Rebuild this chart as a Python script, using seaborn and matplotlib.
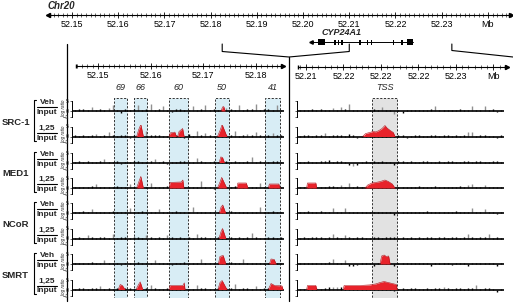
"""
ChIP-chip tracks at the CYP24A1 locus (chr20), coactivator / corepressor
log ratios for vehicle and 1,25(OH)2D3 against input.
"""

import numpy as np
import matplotlib
matplotlib.use('Agg')
import matplotlib.pyplot as plt
from matplotlib.ticker import FixedLocator, MultipleLocator
from matplotlib.transforms import blended_transform_factory
import seaborn as sns

# ---------------------------------------------------------------- data
chr_ticks = [52.15, 52.16, 52.17, 52.18, 52.19, 52.20, 52.21, 52.22, 52.23, 52.24]
chr_labels = ['52.15', '52.16', '52.17', '52.18', '52.19', '52.20', '52.21', '52.22', '52.23', 'Mb']
chr_range = [52.1448, 52.2450]

gene_span = [52.2017, 52.2238]
exon_start = [52.2032, 52.2068, 52.2075, 52.2083, 52.2122, 52.2138, 52.2146, 52.2194, 52.2213, 52.2225]
exon_end = [52.2048, 52.2071, 52.2078, 52.2086, 52.2125, 52.2141, 52.2149, 52.2197, 52.2216, 52.2238]

zoom_left = [52.1825, 52.2100]
zoom_right_start = 52.2322

left_range = [52.14583, 52.1851]
left_ticks = [52.15, 52.16, 52.17, 52.18]
left_labels = ['52.15', '52.16', '52.17', '52.18']
right_labels = ['52.21', '52.22', '52.22', '52.22', '52.23', 'Mb']

region_names = ['69', '66', '60', '50', '41']
region_start = [19.5, 29.0, 45.7, 67.6, 91.4]
region_end = [25.7, 35.2, 54.8, 74.3, 98.6]
tss_start, tss_end = 36.1, 48.3

factors = ['SRC-1', 'MED1', 'NCoR', 'SMRT']
treatments = ['Veh', '1,25']

# probe bins (panel position 0-100)
bin_pos = np.arange(1, 100, 2)

# left panel (upstream enhancer region), log ratio per bin
src_veh_L = [0.5, 0.8, 1.2, 0.4, 2.0, 0.6, 1.0, 0.3, 1.5, 2.8, 0.5, -0.8, 1.0, 0.6, 0.9, 3.0, 0.7, 1.2, 3.5, 0.4,
             1.0, 2.5, 0.6, -0.6, 0.8, 1.1, 0.5, 0.7, 2.5, 0.6, 0.9, 3.0, 0.5, 1.0, 0.7, 0.4, 1.5, 0.8, 0.6, 3.0,
             0.5, 0.9, 1.2, 3.5, 0.6, 0.8, 1.0, 0.5, 3.0, 0.7]
src_125_L = [0.6, 0.4, 1.0, 0.5, 0.8, 1.5, 0.4, 0.6, 2.5, 0.7, 0.5, 1.0, 0.6, -0.5, 0.8, 0.5, 0.7, 2.8, 0.6, 0.9,
             1.0, 0.5, 0.4, 0.8, 0.6, 0.7, -0.6, 1.2, 0.5, 3.0, 0.6, 2.0, 0.8, 0.5, 0.4, 0.6, 0.9, 0.7, 3.0, 0.5,
             0.8, 1.5, 0.6, 2.5, 0.7, 0.5, 1.0, 2.0, 0.6, 0.8]
med_veh_L = [0.4, 0.6, 0.3, 0.8, 0.5, 0.4, 0.7, 2.0, 0.5, 0.3, 0.6, -0.7, 0.4, 0.5, 0.8, 0.6, 0.4, 0.5, 0.7, 2.0,
             0.3, 0.6, -0.8, 0.5, 0.4, 0.7, 0.6, 0.5, 0.4, 2.5, 0.6, 0.3, 0.5, 0.8, 0.4, 0.3, 0.6, 0.5, 0.7, 0.4,
             0.5, 0.6, 3.0, 0.4, 0.7, 0.5, 0.3, 0.6, 0.8, 0.4]
med_125_L = [0.5, 0.7, 0.4, 0.6, 0.8, 2.0, 0.5, 0.6, 0.4, 0.7, 0.8, 0.5, 0.6, 2.0, 0.4, 0.6, 0.5, 0.7, 2.5, 0.4,
             0.6, 0.5, 0.8, 0.7, 0.6, 0.4, 0.5, 0.6, 0.7, 0.5, 3.5, 0.6, 0.4, -0.5, 0.5, 0.7, 0.6, 0.4, 0.8, 0.5,
             0.6, 0.7, 0.4, 0.5, 2.5, 0.6, 0.5, 0.4, 0.6, 0.7]
ncor_veh_L = [0.6, 0.4, 0.8, 0.5, 2.0, 0.6, 0.7, 0.5, 0.4, 0.8, 0.6, 0.5, 0.7, 2.5, 0.4, 0.6, 0.8, 0.5, 0.6, 0.7,
              2.0, 0.5, 0.4, 0.6, 0.8, 0.5, 0.6, 0.7, 3.0, 0.4, 0.6, 0.5, 0.7, 0.6, 0.5, 0.4, 0.6, 0.8, 0.5, 0.7,
              0.6, 0.4, 0.5, 0.7, 3.0, 0.6, 0.5, 0.8, 0.4, 0.6]
ncor_125_L = [0.5, 0.6, 0.4, 2.0, 0.7, 0.5, 0.6, 0.8, 0.5, 2.5, 0.4, 0.6, 0.7, 0.5, 0.6, 0.8, 0.5, 2.0, 0.6, 0.4,
              0.7, 0.5, 2.0, 0.6, 0.5, 0.7, 0.4, 0.6, 0.5, 2.5, 0.6, 0.8, 0.5, 0.4, 0.6, 0.7, 0.5, 0.6, 0.4, 0.8,
              0.5, 0.6, 3.0, 0.7, 0.5, 0.4, 0.6, 0.8, 0.5, 0.6]
smrt_veh_L = [0.4, 0.7, 0.5, 0.6, 0.8, 0.5, 0.4, 2.0, 0.6, 0.5, 0.7, -0.6, 0.5, 0.6, 0.4, 0.8, 0.5, 0.6, 0.7, 2.0,
              0.5, 0.6, 0.4, -0.7, 0.5, 0.6, 0.8, 0.5, 0.4, 0.6, 2.5, 0.5, 0.7, 0.6, 0.4, 0.5, 0.6, 0.8, 0.5, 0.7,
              2.5, 0.6, 0.5, 0.4, 0.7, 0.6, 0.5, 0.8, 0.4, 0.6]
smrt_125_L = [0.5, 0.6, 0.7, 0.4, 0.6, 0.8, 2.0, 0.5, 0.6, 0.4, 0.7, 0.5, 0.6, 0.8, 0.4, 0.6, 0.5, 0.7, 2.5, 0.6,
              0.5, 0.4, 0.7, 0.6, 0.5, 0.8, 0.6, 0.4, 0.5, 2.5, 0.6, 0.7, 0.5, 0.4, 0.6, 0.5, 0.8, 0.6, 3.0, 0.5,
              0.7, 0.6, 0.4, 2.0, 0.5, 0.6, 0.7, 0.5, 0.6, 0.4]

# right panel (promoter / TSS region)
src_veh_R = [0.5, 0.4, 0.6, 0.8, 0.5, 1.0, 0.6, 0.5, 1.5, 0.7, 2.0, 0.8, 3.5, 0.6, 0.5, 0.7, 0.4, 0.6, 0.8, 0.5,
             2.0, 0.6, 0.7, -1.5, 0.5, -0.8, 0.6, 0.4, 0.5, 0.7, 0.6, 0.5, 0.8, 2.5, 0.6, 0.5, 0.7, 0.6, 0.4, 0.8,
             0.5, 0.6, 2.5, 0.7, 0.6, 2.5, 0.5, 0.8, -0.6, 0.5]
src_125_R = [0.4, 0.6, 0.8, 0.5, 0.7, 0.6, 2.0, 0.5, 0.8, 0.6, 0.7, 0.5, 1.2, 0.6, -0.5, 0.4, 0.6, 0.5, 0.7, 0.4,
             0.5, 0.6, 0.4, 0.5, 0.6, 0.8, -0.6, 0.5, 0.7, 0.6, 0.4, 0.5, 0.6, 0.7, 0.5, 0.8, 0.6, 0.4, 0.7, 0.5,
             0.6, 2.5, 2.5, 0.5, 0.7, 0.6, 0.4, 0.5, -0.8, 0.6]
med_veh_R = [0.4, 0.5, 0.6, 0.4, 0.5, 0.7, 0.6, 1.2, 0.5, 0.6, 0.7, 0.5, -1.2, -1.5, -1.0, 0.5, 0.6, 0.4, 0.7, 0.5,
             0.6, 0.4, 0.5, -1.0, 0.6, 0.7, 0.5, 0.6, 0.4, 0.5, 0.6, 0.7, 0.5, 0.4, 0.6, 0.5, 0.7, 0.6, 0.4, 0.5,
             0.6, 0.8, 0.5, 0.7, 0.6, 0.4, 0.5, 0.7, 0.6, 0.5]
med_125_R = [0.4, 0.6, 0.5, 0.7, 0.6, 0.5, 0.4, 1.0, 0.8, 0.6, 1.5, 0.7, 2.5, 0.6, 0.8, 0.5, 0.4, 0.6, 0.5, 0.7,
             0.6, 0.5, 0.8, 0.6, 0.5, 0.7, 0.4, 0.6, 0.5, 0.8, 0.6, 0.7, 0.5, 1.2, 0.6, 0.5, 0.7, 0.6, 0.5, 0.8,
             0.6, 1.5, 2.0, 0.7, 0.6, 1.5, 0.5, 0.6, 0.7, 0.5]
ncor_veh_R = [0.5, 0.6, 0.8, 0.5, 0.7, 1.2, 0.6, 0.5, 2.5, 0.6, 0.7, 2.5, 0.5, 0.6, 0.4, 0.5, 0.7, 0.6, 0.5, 0.4,
              0.6, 0.5, 0.7, -1.0, 0.5, 0.6, 0.4, 0.5, 0.7, 0.6, 0.5, 0.8, 0.6, 0.5, 0.7, 0.6, 0.5, 0.4, 0.8, 0.6,
              0.5, 0.7, 2.5, 0.6, 0.5, 2.0, 0.7, 0.6, -0.6, 0.5]
ncor_125_R = [0.4, 0.6, 0.5, 0.7, 0.8, 0.6, 0.5, 0.7, 2.5, 0.6, 0.5, 2.0, 0.6, 0.5, 0.7, 0.6, 0.4, 0.5, 0.7, 0.6,
              0.5, 0.6, 0.8, 0.7, 0.5, 0.6, 0.5, 0.7, 0.4, 0.6, 0.5, 0.6, 0.7, 0.5, 0.8, 0.6, 0.5, 0.7, 0.6, 0.5,
              0.7, 2.5, 0.6, 0.5, 0.7, 0.6, 2.5, 0.5, 0.6, 0.4]
smrt_veh_R = [0.5, 0.4, 0.6, 0.5, 0.7, 0.6, 0.5, 0.8, 2.5, 0.6, 0.5, 2.0, -0.8, -1.0, -0.6, 0.5, 0.6, 0.4, -0.8, 0.5,
              0.6, 0.5, 0.7, -1.0, 0.6, 0.5, 0.7, 0.4, 0.6, 0.5, 0.7, 0.6, -0.8, 0.5, 0.6, 0.7, 0.5, -0.6, 0.6, 0.7,
              0.5, -0.8, 0.6, 0.5, 0.7, 0.4, 0.6, 0.5, -1.0, 0.6]
smrt_125_R = [0.5, 0.4, 0.6, 0.5, 0.7, 0.5, 0.6, 1.2, 1.5, 1.5, 1.2, 0.6, 0.5, 0.7, 0.6, 0.5, 0.8, 0.6, 0.5, 0.7,
              0.6, 0.5, 0.4, -0.8, 0.5, 0.6, 0.5, 0.7, 0.6, 0.5, 0.4, 0.6, 0.5, 0.7, 1.0, 1.5, 0.6, 0.5, 0.7, 0.6,
              0.5, 0.8, 0.6, 2.5, 0.5, 0.7, 0.6, 0.5, -1.2, 0.5]

# significant (red) enrichment peaks: (positions, log ratios)
src_veh_L_peaks = [([70.5, 71.2, 71.8, 72.4], [0, 2.0, 2.2, 0])]
src_125_L_peaks = [([30.3, 31.3, 32.3, 33.5], [0, 3.5, 6.0, 0]),
                   ([45.7, 46.3, 48.5, 49.2], [0, 1.8, 2.2, 0]),
                   ([49.8, 50.5, 52.2, 52.9], [0, 2.5, 4.0, 0]),
                   ([68.8, 70.2, 71.0, 73.3], [0, 3.5, 6.0, 0])]
med_veh_L_peaks = [([69.6, 70.4, 71.2, 72.1], [0, 2.8, 2.5, 0])]
med_125_L_peaks = [([30.3, 31.3, 32.3, 33.5], [0, 3.0, 5.8, 0]),
                   ([45.8, 46.2, 51.5, 52.3, 52.8], [0, 2.8, 3.0, 4.0, 0]),
                   ([68.8, 70.0, 70.8, 73.2], [0, 3.0, 5.3, 0]),
                   ([78.0, 78.5, 82.5, 83.3], [0, 2.5, 2.5, 0]),
                   ([93.0, 93.5, 98.0, 98.6], [0, 2.0, 2.0, 0])]
ncor_veh_L_peaks = [([69.6, 70.5, 71.3, 72.7], [0, 3.0, 4.0, 0])]
ncor_125_L_peaks = [([69.5, 70.5, 71.2, 72.8], [0, 3.5, 5.0, 0])]
smrt_veh_L_peaks = [([69.2, 70.0, 71.5, 72.8], [0, 3.8, 4.3, 0]),
                    ([93.5, 94.3, 95.8, 96.7], [0, 2.5, 2.3, 0])]
smrt_125_L_peaks = [([21.5, 22.5, 23.5, 24.8], [0, 2.5, 2.0, 0]),
                    ([30.0, 31.2, 32.0, 33.2], [0, 2.5, 3.8, 0]),
                    ([45.7, 46.2, 52.3, 53.0, 53.3], [0, 2.0, 2.0, 3.3, 0]),
                    ([69.0, 70.0, 71.0, 73.3], [0, 3.5, 4.5, 0]),
                    ([93.0, 94.3, 96.0, 99.5, 100.0], [0, 3.0, 2.0, 1.8, 0])]

src_veh_R_peaks = []
src_125_R_peaks = [([31.5, 33.0, 35.0, 36.5, 38.0, 39.5, 41.0, 42.4, 43.5, 45.0, 46.5, 47.3],
                    [0, 1.5, 2.0, 2.5, 2.3, 3.0, 4.0, 5.5, 4.2, 3.0, 2.0, 0])]
med_veh_R_peaks = []
med_125_R_peaks = [([4.2, 4.6, 8.7, 9.1], [0, 2.5, 2.5, 0]),
                   ([32.7, 34.0, 36.0, 38.0, 40.0, 42.4, 44.0, 46.0, 47.3],
                    [0, 1.5, 2.5, 2.8, 3.2, 4.0, 3.3, 2.0, 0])]
ncor_veh_R_peaks = []
ncor_125_R_peaks = []
smrt_veh_R_peaks = [([40.0, 40.8, 42.0, 43.0, 44.2, 44.9], [0, 4.0, 4.5, 3.8, 4.0, 0])]
smrt_125_R_peaks = [([4.2, 4.6, 8.7, 9.1], [0, 2.0, 2.0, 0]),
                    ([22.0, 22.5, 30.0, 35.0, 38.0, 40.0, 42.0, 44.0, 46.0, 48.0, 48.3],
                     [0, 2.0, 2.0, 2.3, 2.8, 3.5, 4.0, 3.5, 3.0, 2.5, 0])]

left_tracks = [src_veh_L, src_125_L, med_veh_L, med_125_L, ncor_veh_L, ncor_125_L, smrt_veh_L, smrt_125_L]
right_tracks = [src_veh_R, src_125_R, med_veh_R, med_125_R, ncor_veh_R, ncor_125_R, smrt_veh_R, smrt_125_R]
left_peaks = [src_veh_L_peaks, src_125_L_peaks, med_veh_L_peaks, med_125_L_peaks,
              ncor_veh_L_peaks, ncor_125_L_peaks, smrt_veh_L_peaks, smrt_125_L_peaks]
right_peaks = [src_veh_R_peaks, src_125_R_peaks, med_veh_R_peaks, med_125_R_peaks,
               ncor_veh_R_peaks, ncor_125_R_peaks, smrt_veh_R_peaks, smrt_125_R_peaks]

# ---------------------------------------------------------------- style
sns.set_theme(style='white')
plt.rcParams['font.family'] = ['Liberation Sans', 'DejaVu Sans']

RED = '#e8232b'
BLUE_BOX = '#d8edf5'
GRAY_BOX = '#e2e2e2'

W, H = 513, 303
fig = plt.figure(figsize=(W / 100, H / 100), dpi=100)


def px_axes(x0, y0, w, h):
    """Add an axes given in pixel coordinates (top-left origin)."""
    return fig.add_axes([x0 / W, 1 - (y0 + h) / H, w / W, h / H])


def scale_bar(ax, lo, hi, ticks, labels, minor, left_arrow=True):
    ax.set_xlim(lo, hi)
    ax.set_ylim(0, 1)
    ax.set_facecolor('none')
    for s in ['top', 'left', 'right']:
        ax.spines[s].set_visible(False)
    ax.spines['bottom'].set_linewidth(0.8)
    ax.spines['bottom'].set_color('black')
    ax.set_yticks([])
    ax.xaxis.set_major_locator(FixedLocator(ticks))
    ax.set_xticklabels(labels)
    ax.xaxis.set_minor_locator(MultipleLocator(minor))
    ax.tick_params(axis='x', which='major', direction='inout', length=5, width=0.6,
                   labelsize=6.5, pad=1, bottom=True, colors='black')
    ax.tick_params(axis='x', which='minor', direction='inout', length=3, width=0.5, bottom=True)
    ax.plot([1], [0], marker='>', ms=3, color='black', transform=ax.transAxes, clip_on=False)
    if left_arrow:
        ax.plot([0], [0], marker='<', ms=3, color='black', transform=ax.transAxes, clip_on=False)


# overlay for connector lines and labels (pixel coordinates)
ov = fig.add_axes([0, 0, 1, 1])
ov.set_xlim(0, W)
ov.set_ylim(H, 0)
ov.axis('off')

# chromosome ruler
CHR_X0, CHR_W = 48, 463
chr_ax = px_axes(CHR_X0, 14.5, CHR_W, 0.5)
scale_bar(chr_ax, chr_range[0], chr_range[1], chr_ticks, chr_labels, 0.001)
ov.text(CHR_X0, 6, 'Chr20', fontsize=7, fontweight='bold', fontstyle='italic', va='center', ha='left')


def mb2px(mb):
    return CHR_X0 + (mb - chr_range[0]) / (chr_range[1] - chr_range[0]) * CHR_W


# gene model
gene_ax = px_axes(CHR_X0, 37, CHR_W, 10)
gene_ax.set_xlim(chr_range)
gene_ax.set_ylim(-1, 1)
gene_ax.axis('off')
gene_ax.plot(gene_span, [0, 0], color='black', lw=0.7)
gene_ax.plot([gene_span[0]], [0], marker='<', ms=2.5, color='black')
ex_s = np.array(exon_start)
ex_e = np.array(exon_end)
ex_w = ex_e - ex_s
ex_h = np.where(ex_w > 0.0008, 1.3, 1.0)
gene_ax.bar((ex_s + ex_e) / 2, ex_h, width=ex_w, bottom=-ex_h / 2, color='black', linewidth=0)
gene_ax.text(np.mean(gene_span) - 0.0045, 1.9, 'CYP24A1', fontsize=6.5, fontweight='bold',
             fontstyle='italic', ha='center', va='center')

# zoom connectors
xa, xb, xc = mb2px(zoom_left[0]), mb2px(zoom_left[1]), mb2px(zoom_right_start)
DIV_X, LEFT_X = 289, 67
ov.plot([xa, xa, DIV_X, xb, xb], [44, 51.5, 57, 51.5, 44], color='black', lw=0.8)
ov.plot([xc, xc, W], [44, 50.5, 57], color='black', lw=0.8)
ov.plot([LEFT_X, LEFT_X], [44, 301], color='black', lw=0.9)
ov.plot([DIV_X, DIV_X], [57, 301], color='black', lw=0.9)

# panel rulers
lax = px_axes(76, 65.5, 207, 0.5)
scale_bar(lax, left_range[0], left_range[1], left_ticks, left_labels, 0.001, left_arrow=False)
lax.plot([0], [0], marker='|', ms=3, color='black', transform=lax.transAxes, clip_on=False)
rax = px_axes(298, 66.5, 209, 0.5)
scale_bar(rax, -0.213, 5.36, list(range(6)), right_labels, 1 / 6, left_arrow=False)
rax.plot([0], [0], marker='|', ms=3, color='black', transform=rax.transAxes, clip_on=False)

# ---------------------------------------------------------------- tracks
track_base = [111, 136.5, 162.5, 188, 213, 238.5, 264, 289.5]
panels = [
    dict(x0=72, w=212, xlim=(-0.476, 100.476), tracks=left_tracks, peaks=left_peaks, labels=True),
    dict(x0=297, w=207, xlim=(-0.49, 100.49), tracks=right_tracks, peaks=right_peaks, labels=False),
]

# region boxes behind the tracks
for p in panels:
    bg = px_axes(p['x0'], 98, p['w'], 200)
    bg.set_xlim(p['xlim'])
    bg.set_ylim(0, 1)
    bg.axis('off')
    tr = blended_transform_factory(bg.transData, bg.transAxes)
    if p['labels']:
        starts, ends, names, fc = region_start, region_end, region_names, BLUE_BOX
    else:
        starts, ends, names, fc = [tss_start], [tss_end], ['TSS'], GRAY_BOX
    for s, e, n in zip(starts, ends, names):
        bg.axvspan(s, e, facecolor=fc, edgecolor='#333333', lw=0.7, linestyle=(0, (2.2, 1.6)))
        bg.text((s + e) / 2, 1.05, n, transform=tr, fontsize=6.5, fontstyle='italic',
                ha='center', va='center')

for p in panels:
    for k, (vals, peaks) in enumerate(zip(p['tracks'], p['peaks'])):
        b = track_base[k]
        ax = px_axes(p['x0'], b - 12, p['w'], 19)
        ax.set_facecolor('none')
        ax.set_xlim(p['xlim'])
        ax.set_ylim(-3.5, 6)
        v = np.array(vals)
        cols = np.where(np.abs(v) >= 1.4, '#909090', 'black')
        ax.vlines(bin_pos, 0, v, colors=cols, lw=1.0, zorder=1)
        ax.axhline(0, color='black', lw=1.2, zorder=2)
        for xs, ys in peaks:
            ax.fill_between(xs, 0, ys, color=RED, lw=0, zorder=3)
            sns.lineplot(x=xs, y=ys, ax=ax, color='#b3141b', lw=0.4, zorder=4)
        for s in ['top', 'right', 'bottom']:
            ax.spines[s].set_visible(False)
        ax.spines['left'].set_bounds(-3, 5)
        ax.spines['left'].set_linewidth(0.7)
        ax.spines['left'].set_color('black')
        ax.set_xticks([])
        ax.set_yticks([-3, 0, 5])
        ax.tick_params(axis='y', length=1.5, width=0.5, pad=0.5, labelsize=4, left=True,
                       labelleft=p['labels'])
        ax.set_xlabel('')
        ax.set_ylabel('')
        if p['labels']:
            ov.text(63, b - 3, 'log ratio', fontsize=3.3, fontstyle='italic', rotation=90,
                    ha='center', va='center')
            ov.text(47, b - 8.5, treatments[k % 2], fontsize=6, fontweight='bold', ha='center', va='center')
            ov.plot([37, 57], [b - 4, b - 4], color='black', lw=0.8)
            ov.text(47, b + 1.5, 'Input', fontsize=6, fontweight='bold', ha='center', va='center')

# factor labels and brackets
for j, name in enumerate(factors):
    b1, b2 = track_base[2 * j], track_base[2 * j + 1]
    ov.text(2, (b1 + b2) / 2 - 1.5, name, fontsize=6.8, fontweight='bold', ha='left', va='center')
    ov.plot([36, 34, 34, 36], [b1 - 11, b1 - 11, b2 + 4, b2 + 4], color='black', lw=0.8)

fig.savefig('out.png', dpi=100)
